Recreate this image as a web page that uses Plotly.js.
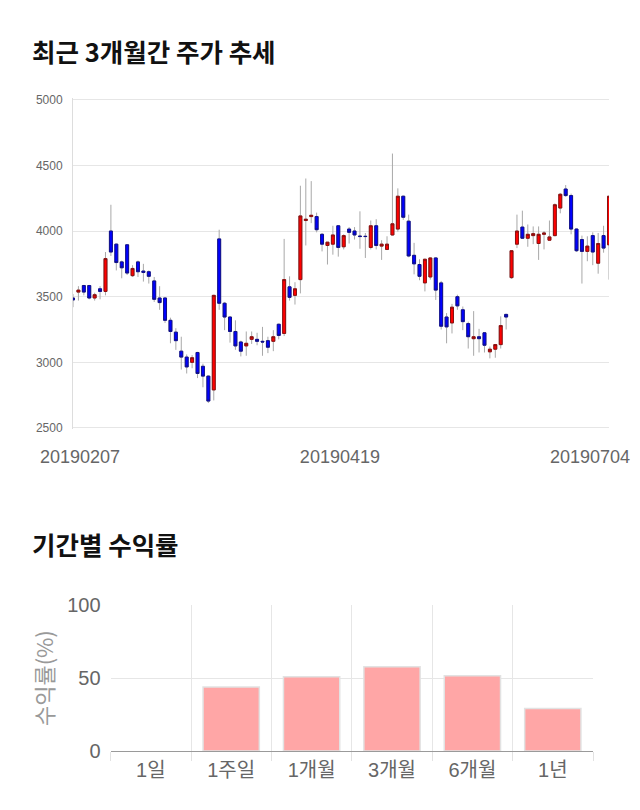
<!DOCTYPE html>
<html>
<head>
<meta charset="utf-8">
<script src="https://cdn.plot.ly/plotly-3.0.1.min.js"></script>
<style>
html,body{margin:0;padding:0;background:#fff;overflow:hidden;}
#chart{width:640px;height:810px;}
</style>
</head>
<body>
<div id="chart"></div>
<script>
// ---- price data (daily candles) ----
const dates = [
  '20190207','20190208','20190211','20190212','20190213','20190214','20190215','20190218','20190219','20190220',
  '20190221','20190222','20190225','20190226','20190227','20190228','20190304','20190305','20190306','20190307',
  '20190308','20190311','20190312','20190313','20190314','20190315','20190318','20190319','20190320','20190321',
  '20190322','20190325','20190326','20190327','20190328','20190329','20190401','20190402','20190403','20190404',
  '20190405','20190409','20190410','20190411','20190412','20190415','20190416','20190417','20190418','20190419',
  '20190422','20190423','20190424','20190425','20190426','20190429','20190430','20190502','20190507','20190508',
  '20190509','20190510','20190513','20190514','20190515','20190516','20190517','20190520','20190521','20190522',
  '20190523','20190524','20190527','20190528','20190529','20190530','20190531','20190603','20190604','20190605',
  '20190607','20190610','20190611','20190612','20190613','20190614','20190617','20190618','20190619','20190620',
  '20190621','20190624','20190625','20190626','20190627','20190628','20190701','20190702','20190703','20190704'
];
const openPrices = [
  3490,3535,3585,3585,3490,3560,3540,4000,3900,3765,
  3895,3660,3765,3695,3690,3620,3490,3490,3320,3230,
  3085,3040,3000,3075,2970,2895,2790,3940,3450,3345,
  3235,3155,3125,3175,3175,3160,3165,3160,3290,3220,
  3575,3510,3630,4080,4110,4110,3975,3890,3900,4040,
  3880,4015,4000,3962,3960,3875,4040,3885,3860,3970,
  4015,4265,4075,3815,3745,3605,3650,3795,3605,3345,
  3300,3500,3400,3295,3180,3195,3225,3080,3100,3135,
  3365,3645,3900,4030,3945,3965,3905,3975,3930,3965,
  4175,4320,4270,4015,3935,3845,3965,3755,3965,3895
];
const highPrices = [
  3520,3580,3590,3590,3530,3580,3840,4200,3905,3775,
  3900,3740,3775,3750,3700,3650,3580,3495,3340,3260,
  3195,3060,3055,3080,2990,2900,3515,4010,3460,3350,
  3320,3165,3235,3235,3225,3270,3195,3245,3295,3940,
  3655,3610,4345,4400,4380,4140,3985,3915,4040,4045,
  3975,4030,4030,4150,3985,4080,4090,3930,3960,4590,
  4325,4270,4125,3910,3785,3790,3800,3800,3620,3375,
  3445,3515,3425,3310,3390,3255,3230,3120,3140,3350,
  3370,3855,4125,4155,4050,4035,4035,4000,4080,4210,
  4290,4350,4285,4020,3965,3960,3990,3985,4040,4265
];
const lowPrices = [
  3420,3470,3510,3480,3470,3480,3510,3810,3700,3640,
  3665,3650,3650,3615,3600,3460,3400,3300,3145,3095,
  2945,2915,2955,2880,2810,2690,2710,3400,3245,3150,
  3095,3045,3050,3140,3130,3050,3070,3085,3175,3200,
  3470,3440,3525,3890,4060,3990,3845,3745,3820,3805,
  3860,3905,3935,3865,3795,3860,3860,3780,3855,3965,
  3995,4085,3800,3670,3625,3540,3630,3475,3250,3145,
  3220,3400,3245,3105,3050,3075,3075,3030,3035,3105,
  3250,3635,3870,3940,3880,3900,3780,3860,3925,3960,
  4135,4260,3975,3840,3600,3770,3740,3675,3835,3630
];
const closePrices = [
  3475,3550,3535,3490,3515,3540,3790,3840,3760,3720,
  3680,3715,3690,3685,3655,3480,3455,3320,3235,3165,
  3040,2965,3035,2915,2895,2705,3510,3450,3345,3235,
  3125,3085,3145,3195,3160,3155,3115,3195,3205,3630,
  3495,3560,4115,4090,4120,4010,3900,3915,3970,3875,
  3965,3990,3970,3958,3958,4040,3890,3900,3900,4055,
  4265,4105,3810,3750,3655,3785,3795,3550,3275,3270,
  3420,3430,3310,3195,3195,3180,3130,3100,3135,3280,
  3345,3850,4000,3945,3975,3980,3975,3985,3955,4200,
  4280,4270,4015,3850,3845,3885,3840,3905,3870,4265
];
const dateTickLabels = ['20190207','20190419','20190704'];
const dateTickNudge = [1.3, 0.3, -3.5];  // label placement nudges (category units)

// ---- period returns ----
const periods = ['1일','1주일','1개월','3개월','6개월','1년'];
const returns = [0, 43.9, 51.0, 57.9, 51.7, 29.1];

const W = 640, H = 810;
const px = v => v / W;
const py = v => 1 - v / H;

// wicks (grey)
const wicks = {
  type: 'candlestick',
  x: dates, open: openPrices, high: highPrices, low: lowPrices, close: closePrices,
  xaxis: 'x', yaxis: 'y',
  increasing: {line: {color: '#a8a8a8', width: 1}, fillcolor: '#ff0000'},
  decreasing: {line: {color: '#a8a8a8', width: 1}, fillcolor: '#0000ff'},
  whiskerwidth: 0, hoverinfo: 'skip', showlegend: false
};
// bodies (coloured, dark outline) drawn over the wicks
const bodies = {
  type: 'candlestick',
  x: dates, open: openPrices, close: closePrices,
  high: openPrices.map((o, i) => Math.max(o, closePrices[i])),
  low: openPrices.map((o, i) => Math.min(o, closePrices[i])),
  xaxis: 'x', yaxis: 'y',
  increasing: {line: {color: '#8a1010', width: 1}, fillcolor: '#ff0000'},
  decreasing: {line: {color: '#10108a', width: 1}, fillcolor: '#0000ff'},
  whiskerwidth: 0, hoverinfo: 'skip', showlegend: false
};

const bars = {
  type: 'bar',
  x: periods, y: returns,
  xaxis: 'x2', yaxis: 'y2',
  marker: {color: '#ffa6a6', line: {color: '#e2e2e2', width: returns.map(v => v === 0 ? 0 : 1.5)}},
  hoverinfo: 'skip', showlegend: false
};

const tickPos = dateTickLabels.map((d, i) => dates.indexOf(d) + dateTickNudge[i]);

const layout = {
  width: W, height: H,
  margin: {l: 0, r: 0, t: 0, b: 0},
  paper_bgcolor: '#fff', plot_bgcolor: '#fff',
  showlegend: false,
  bargap: 0.3,
  boxgap: 0.22,
  font: {family: 'Liberation Sans, Arial, Noto Sans CJK KR, sans-serif', color: '#666'},
  xaxis: {
    type: 'category', domain: [px(73), px(609)], anchor: 'y',
    range: [0, dates.length - 1],
    rangeslider: {visible: false},
    showgrid: false, showline: false, zeroline: false,
    tickmode: 'array', tickvals: tickPos, ticktext: dateTickLabels,
    ticks: '', ticklabelstandoff: 15,
    tickfont: {family: 'Liberation Sans, Arial, sans-serif', size: 18, color: '#666'},
    fixedrange: true
  },
  yaxis: {
    domain: [py(429.3), py(98.4)], anchor: 'x',
    range: [2490, 5010], tickmode: 'linear', tick0: 2500, dtick: 500,
    showgrid: true, gridcolor: '#e6e6e6', gridwidth: 1,
    showline: true, linecolor: '#dddddd', linewidth: 1,
    zeroline: false, ticks: '', ticklabelstandoff: 7,
    tickfont: {family: 'Liberation Sans, Arial, sans-serif', size: 12, color: '#666'},
    fixedrange: true
  },
  xaxis2: {
    type: 'category', domain: [px(110.6), px(593)], anchor: 'y2',
    tickson: 'boundaries',
    showgrid: true, gridcolor: '#e6e6e6', gridwidth: 1,
    ticks: 'outside', ticklen: 9, tickcolor: '#e2e2e2', tickwidth: 1,
    ticklabelstandoff: 5,
    showline: false, zeroline: false,
    tickfont: {family: 'Liberation Sans, Noto Sans CJK KR, sans-serif', size: 20, color: '#666'},
    fixedrange: true
  },
  yaxis2: {
    domain: [py(751), py(605.3)], anchor: 'x2',
    range: [0, 100], tickmode: 'linear', tick0: 0, dtick: 50,
    showgrid: true, gridcolor: '#e6e6e6', gridwidth: 1,
    zeroline: true, zerolinecolor: '#9a9a9a', zerolinewidth: 1,
    showline: false, ticks: '', ticklabelstandoff: 9,
    tickfont: {family: 'Liberation Sans, Arial, sans-serif', size: 20, color: '#666'},
    title: {text: '수익률(%)', standoff: 7,
            font: {family: 'Noto Sans CJK KR, sans-serif', size: 22, color: '#999'}},
    fixedrange: true
  },
  annotations: [
    {text: '<b>최근 3개월간 주가 추세</b>', xref: 'paper', yref: 'paper',
     x: px(30), y: py(50), xanchor: 'left', yanchor: 'middle', showarrow: false,
     font: {family: 'Noto Sans CJK KR, sans-serif', size: 25.5, color: '#111'}},
    {text: '<b>기간별 수익률</b>', xref: 'paper', yref: 'paper',
     x: px(30), y: py(543), xanchor: 'left', yanchor: 'middle', showarrow: false,
     font: {family: 'Noto Sans CJK KR, sans-serif', size: 25.5, color: '#111'}}
  ]
};

Plotly.newPlot('chart', [wicks, bodies, bars], layout, {displayModeBar: false, staticPlot: true});
</script>
</body>
</html>
